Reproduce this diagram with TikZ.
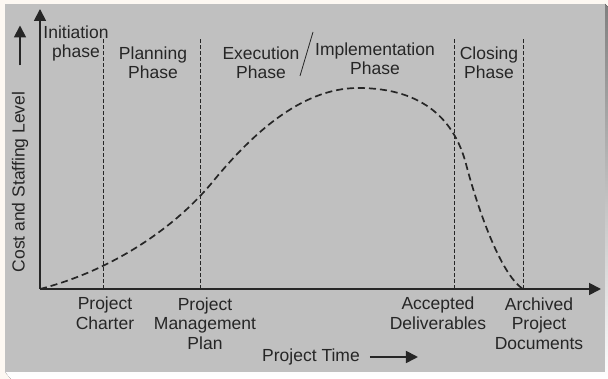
\documentclass[tikz,border=0pt]{standalone}
\usepackage{fontspec}
\setmainfont{Liberation Sans}
\usetikzlibrary{arrows.meta}
\definecolor{panel}{HTML}{C0C0C0}
\definecolor{paper}{HTML}{FDF8F2}
\definecolor{shade}{HTML}{4A4A4A}
\definecolor{ink}{HTML}{262626}
\tikzset{
  lbl/.style={align=center,text=ink,inner sep=0pt,font=\fontsize{17.5}{19.5}\selectfont},
  axis/.style={ink,line width=1.8pt,-{Triangle[length=12pt,width=12pt]}},
  milestone/.style={ink,line width=0.8pt,dash pattern=on 4pt off 2pt},
  effort/.style={ink,line width=1.7pt,dash pattern=on 7pt off 4pt},
}
\begin{document}
\begin{tikzpicture}[x=1pt,y=1pt]
\useasboundingbox (0,0) rectangle (608,379);
\fill[paper] (0,0) rectangle (608,379);
\fill[shade] (5,7)--(11,0)--(608,0)--(608,372)--(605,375)--cycle;
\fill[panel] (5,7) rectangle (605,375);
\coordinate (O) at (40,90);
\coordinate (ytop) at (40,370);
\coordinate (xend) at (601,90);
\draw[axis] (O)--(ytop);
\draw[axis] (O)--(xend);
\foreach \x/\n in {103/charter,200/plan,454/accept,523/archive}{
  \coordinate (\n) at (\x,90);
  \coordinate (\n top) at (\x,340);
  \draw[milestone] (\n)--(\n top);
}
\coordinate (peak) at (358,291);
\draw[effort] (O) .. controls (110,108) and (175,150) .. (215,200)
  .. controls (250,242) and (300,291) .. (peak)
  .. controls (425,291) and (455,257) .. (466,215)
  .. controls (477,173) and (500,105) .. (archive);
\node[lbl] (init) at (76,335.5) {Initiation\\phase};
\node[lbl] (planning) at (153,316) {Planning\\Phase};
\node[lbl] (exec) at (261,316) {Execution\\Phase};
\node[lbl] (impl) at (375,320) {Implementation\\Phase};
\node[lbl] (closing) at (489,316) {Closing\\Phase};
\draw[ink,line width=0.8pt] (300,303)--(313,347);
\node[lbl] (charterlbl) at (105,65.5) {Project\\Charter};
\node[lbl] (planlbl) at (205,55.5) {Project\\Management\\Plan};
\node[lbl] (acceptlbl) at (438,65.5) {Accepted\\Deliverables};
\node[lbl] (archivelbl) at (539,55.5) {Archived\\Project\\Documents};
\node[lbl] (ptime) at (311,22) {Project Time};
\draw[axis] ([xshift=10pt]ptime.east)--++(48,0);
\node[lbl,rotate=90] (cost) at (20,197) {Cost and Staffing Level};
\draw[axis] ([yshift=26pt]cost.east)--++(0,40);
\end{tikzpicture}
\end{document}
